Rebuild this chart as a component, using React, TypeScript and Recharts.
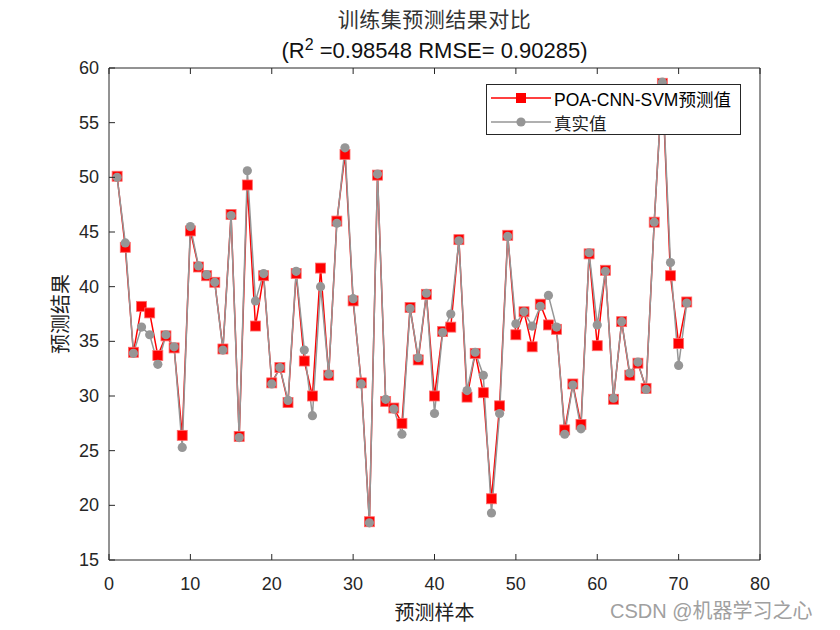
import React from 'react';
import { LineChart, Line, XAxis, YAxis, Legend } from 'recharts';

const sampleIndex = Array.from({ length: 71 }, (_, i) => i + 1);

const predicted = [
    50.1, 43.6, 34.0, 38.2, 37.6, 33.7, 35.5, 34.4, 26.4, 45.1,
    41.8, 41.0, 40.4, 34.3, 46.6, 26.3, 49.3, 36.4, 41.0, 31.2,
    32.6, 29.4, 41.2, 33.2, 30.0, 41.7, 31.9, 46.0, 52.1, 38.7,
    31.2, 18.5, 50.2, 29.5, 28.9, 27.5, 38.1, 33.3, 39.3, 30.0,
    35.9, 36.3, 44.3, 29.9, 33.9, 30.3, 20.6, 29.1, 44.7, 35.6,
    37.7, 34.5, 38.4, 36.5, 36.1, 26.9, 31.1, 27.4, 43.0, 34.6,
    41.5, 29.7, 36.8, 31.9, 33.0, 30.7, 45.9, 58.6, 41.0, 34.8, 38.6,
];

const actual = [
    50.0, 44.0, 33.9, 36.3, 35.6, 32.9, 35.6, 34.5, 25.3, 45.5,
    41.9, 41.1, 40.4, 34.2, 46.5, 26.2, 50.6, 38.7, 41.2, 31.1,
    32.6, 29.6, 41.4, 34.2, 28.2, 40.0, 32.0, 45.8, 52.7, 38.9,
    31.1, 18.4, 50.3, 29.7, 28.8, 26.5, 38.0, 33.5, 39.4, 28.4,
    35.8, 37.5, 44.2, 30.5, 34.0, 31.9, 19.3, 28.4, 44.6, 36.6,
    37.7, 36.4, 38.2, 39.2, 36.3, 26.5, 31.0, 27.0, 43.1, 36.5,
    41.4, 29.8, 36.8, 32.1, 33.1, 30.6, 45.9, 58.7, 42.2, 32.8, 38.5,
];

const xTicks = [0, 10, 20, 30, 40, 50, 60, 70, 80];
const yTicks = [15, 20, 25, 30, 35, 40, 45, 50, 55, 60];

const chartData = sampleIndex.map((idx, i) => ({ idx, pred: predicted[i], real: actual[i] }));

const RED = '#ff0000';
const GRAY = '#969696';
const AXIS = '#262626';
const FONT = '"Liberation Sans", Arial, "Noto Sans CJK SC", sans-serif';
const CJK = '"Noto Sans CJK SC", sans-serif';
const TICK_LEN = 6;
const TICK_GAP = 8;

const SquareDot = (props: any) => {
    const { cx, cy, key } = props;
    if (cx == null || cy == null) return null;
    return <rect key={key} x={cx - 5} y={cy - 5} width={10} height={10} fill={RED} stroke="#ff6a6a" strokeWidth={0.8} />;
};

const CircleDot = (props: any) => {
    const { cx, cy, key } = props;
    if (cx == null || cy == null) return null;
    return <circle key={key} cx={cx} cy={cy} r={4.6} fill={GRAY} stroke="none" />;
};

// MATLAB style: tick marks point into the plot box
const InwardTick = (side: 'bottom' | 'top' | 'left' | 'right', showLabel: boolean) => (props: any) => {
    const { x, y, payload } = props;
    const d = TICK_LEN + TICK_GAP;
    let line = null;
    let label = null;
    if (side === 'bottom') {
        const ay = y - d;
        line = <line x1={x} y1={ay} x2={x} y2={ay - TICK_LEN} stroke={AXIS} />;
        if (showLabel) label = <text x={x} y={ay + 24} textAnchor="middle" dominantBaseline="central" fill={AXIS} fontSize={18} fontFamily={FONT}>{payload.value}</text>;
    } else if (side === 'top') {
        const ay = y + d;
        line = <line x1={x} y1={ay} x2={x} y2={ay + TICK_LEN} stroke={AXIS} />;
    } else if (side === 'left') {
        const ax = x + d;
        line = <line x1={ax} y1={y} x2={ax + TICK_LEN} y2={y} stroke={AXIS} />;
        if (showLabel) label = <text x={ax - 10} y={y} textAnchor="end" dominantBaseline="central" fill={AXIS} fontSize={18} fontFamily={FONT}>{payload.value}</text>;
    } else {
        const ax = x - d;
        line = <line x1={ax} y1={y} x2={ax - TICK_LEN} y2={y} stroke={AXIS} />;
    }
    return (
        <g>
            {line}
            {label}
        </g>
    );
};

const LegendBox = () => (
    <div style={{ border: `1px solid ${AXIS}`, background: '#fff', width: 255, height: 51, boxSizing: 'border-box', fontFamily: FONT, fontSize: 17.5, color: '#000' }}>
        <div style={{ display: 'flex', alignItems: 'center', height: 24, marginTop: 1 }}>
            <svg width={67} height={20}>
                <line x1={4} y1={10} x2={64} y2={10} stroke={RED} strokeWidth={1.5} />
                <rect x={29} y={5} width={10} height={10} fill={RED} />
            </svg>
            <span>POA-CNN-SVM<span style={{ fontFamily: CJK }}>预测值</span></span>
        </div>
        <div style={{ display: 'flex', alignItems: 'center', height: 24 }}>
            <svg width={67} height={20}>
                <line x1={4} y1={10} x2={64} y2={10} stroke={GRAY} strokeWidth={1.5} />
                <circle cx={34} cy={10} r={4.6} fill={GRAY} />
            </svg>
            <span style={{ fontFamily: CJK, color: '#222' }}>真实值</span>
        </div>
    </div>
);

export default function App() {
    return (
        <div style={{ position: 'absolute', left: 0, top: 0, width: 840, height: 630, background: '#fff' }}>
            <div style={{ position: 'absolute', top: 3, left: 109, width: 651, textAlign: 'center', fontFamily: CJK, fontSize: 21, color: '#333', letterSpacing: 0.5 }}>
                训练集预测结果对比
            </div>
            <div style={{ position: 'absolute', top: 36, left: 109, width: 651, textAlign: 'center', fontFamily: FONT, fontSize: 22, color: '#111' }}>
                (R<sup style={{ fontSize: 16 }}>2</sup> =0.98548 RMSE= 0.90285)
            </div>
            <LineChart
                width={840}
                height={630}
                data={chartData}
                margin={{ top: 67, right: 79, bottom: 40, left: 69 }}
            >
                <XAxis
                    dataKey="idx"
                    type="number"
                    domain={[0, 80]}
                    ticks={xTicks}
                    height={30}
                    stroke={AXIS}
                    tickLine={false}
                    tickSize={TICK_LEN}
                    tickMargin={TICK_GAP}
                    tick={InwardTick('bottom', true)}
                    label={{ value: '预测样本', position: 'insideBottom', offset: -30, fill: '#222', fontSize: 20, fontFamily: CJK }}
                />
                <XAxis
                    xAxisId="top"
                    dataKey="idx"
                    type="number"
                    orientation="top"
                    domain={[0, 80]}
                    ticks={xTicks}
                    height={1}
                    stroke={AXIS}
                    tickLine={false}
                    tickSize={TICK_LEN}
                    tickMargin={TICK_GAP}
                    tick={InwardTick('top', false)}
                />
                <YAxis
                    type="number"
                    domain={[15, 60]}
                    ticks={yTicks}
                    width={40}
                    stroke={AXIS}
                    tickLine={false}
                    tickSize={TICK_LEN}
                    tickMargin={TICK_GAP}
                    tick={InwardTick('left', true)}
                    label={{ value: '预测结果', angle: -90, position: 'insideLeft', offset: -8, fill: '#222', fontSize: 20, fontFamily: CJK, style: { textAnchor: 'middle' } }}
                />
                <YAxis
                    yAxisId="right"
                    orientation="right"
                    type="number"
                    domain={[15, 60]}
                    ticks={yTicks}
                    width={1}
                    stroke={AXIS}
                    tickLine={false}
                    tickSize={TICK_LEN}
                    tickMargin={TICK_GAP}
                    tick={InwardTick('right', false)}
                />
                <Legend
                    layout="vertical"
                    align="center"
                    verticalAlign="middle"
                    content={() => <LegendBox />}
                    wrapperStyle={{ left: 486, top: 84, width: 255, height: 51 }}
                />
                <Line dataKey="pred" stroke={RED} strokeWidth={1.5} dot={SquareDot} activeDot={false} isAnimationActive={false} />
                <Line dataKey="real" stroke={GRAY} strokeWidth={1.5} dot={CircleDot} activeDot={false} isAnimationActive={false} />
            </LineChart>
            <div style={{ position: 'absolute', left: 610, top: 595, fontFamily: FONT, fontSize: 20, color: '#a0a0a0' }}>
                CSDN @<span style={{ fontFamily: CJK }}>机器学习之心</span>
            </div>
        </div>
    );
}
